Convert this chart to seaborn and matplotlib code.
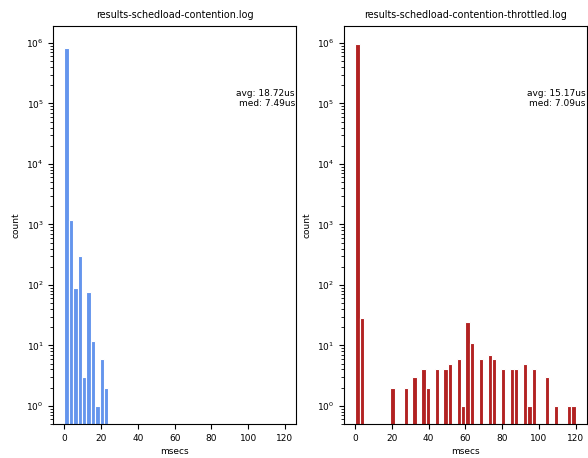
import numpy as np
import pandas as pd
import matplotlib
matplotlib.use("Agg")
import matplotlib.pyplot as plt
import seaborn as sns

# histogram bins: 50 bins over 0..120 msecs
bin_edges = list(np.linspace(0, 120, 51))

# left log: non-empty bins (bin index -> count)
plain_bins = [0, 1, 2, 3, 4, 5, 6, 7, 8, 9]
plain_counts = [820000, 1170, 90, 305, 3, 76, 12, 1, 6, 2]

# right log: non-empty bins
throttled_bins = [0, 1, 8, 11, 13, 15, 16, 18, 20, 21, 23, 24, 25, 26, 28,
                  30, 31, 33, 35, 36, 38, 39, 40, 43, 45, 48, 49]
throttled_counts = [960000, 28, 2, 2, 3, 4, 2, 4, 4, 5, 6, 1, 24, 11, 6,
                    7, 6, 4, 4, 4, 5, 1, 4, 3, 1, 1, 1]

titles = ["results-schedload-contention.log",
          "results-schedload-contention-throttled.log"]
stats = ["avg: 18.72us\nmed: 7.49us", "avg: 15.17us\nmed: 7.09us"]
colors = ["cornflowerblue", "firebrick"]

fig, axes = plt.subplots(1, 2, figsize=(5.88, 4.58), dpi=100)
fig.subplots_adjust(left=0.0906, right=0.998, top=0.943, bottom=0.074, wspace=0.198)

edges = np.array(bin_edges)
centers = (edges[:-1] + edges[1:]) / 2
datasets = [(plain_bins, plain_counts), (throttled_bins, throttled_counts)]

for ax, (idx, cnt), title, txt, col in zip(axes, datasets, titles, stats, colors):
    df = pd.DataFrame({"msecs": centers[idx], "n": cnt})
    sns.histplot(data=df, x="msecs", weights="n", bins=bin_edges, ax=ax,
                 color=col, edgecolor="white", linewidth=0.8, alpha=1.0)
    ax.set_yscale("log")
    ax.set_xlim(-6, 126)
    ax.set_ylim(0.5, 1.9e6)
    ax.set_xticks(range(0, 121, 20))
    ax.set_title(title, fontsize=6.9)
    ax.set_xlabel("msecs", fontsize=6.5, labelpad=3)
    ax.set_ylabel("count", fontsize=6.5)
    ax.tick_params(labelsize=6.5)
    ax.text(0.995, 0.842, txt, transform=ax.transAxes, ha="right", va="top",
            fontsize=6.5, linespacing=1.1)

plt.savefig("out.png", dpi=100)
